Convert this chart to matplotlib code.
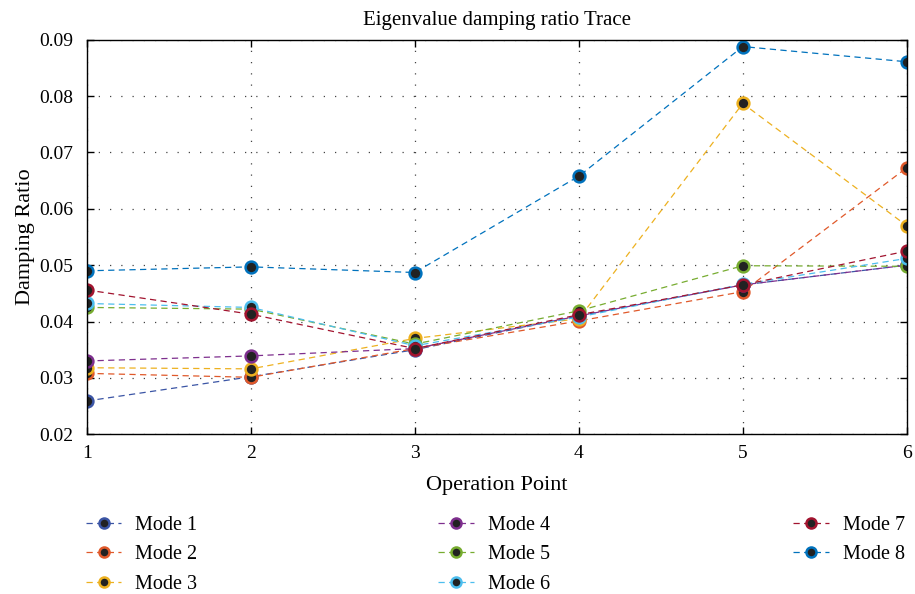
import matplotlib
matplotlib.use("Agg")
import matplotlib.pyplot as plt

plt.rcParams['font.family'] = ['Liberation Serif', 'DejaVu Serif']

op_points = [1, 2, 3, 4, 5, 6]
mode_names = ["Mode 1", "Mode 2", "Mode 3", "Mode 4", "Mode 5", "Mode 6", "Mode 7", "Mode 8"]
mode1 = [0.0259, 0.0302, 0.0350, 0.0410, 0.0465, 0.0500]
mode2 = [0.0308, 0.0301, 0.0352, 0.0401, 0.0453, 0.0673]
mode3 = [0.0318, 0.0316, 0.0370, 0.0405, 0.0787, 0.0570]
mode4 = [0.0330, 0.0339, 0.0352, 0.0410, 0.0465, 0.0500]
mode5 = [0.0425, 0.0422, 0.0360, 0.0419, 0.0499, 0.0498]
mode6 = [0.0432, 0.0425, 0.0357, 0.0408, 0.0466, 0.0512]
mode7 = [0.0456, 0.0413, 0.0352, 0.0412, 0.0465, 0.0525]
mode8 = [0.0490, 0.0497, 0.0487, 0.0658, 0.0888, 0.0861]
series = [mode1, mode2, mode3, mode4, mode5, mode6, mode7, mode8]
colors = ["#3B55A5", "#E0592A", "#EDB120", "#7E2F8E", "#77AC30", "#4DBEEE", "#A2142F", "#0072BD"]
yticks = [0.02, 0.03, 0.04, 0.05, 0.06, 0.07, 0.08, 0.09]

fig = plt.figure(figsize=(9.15, 5.94), dpi=100)
ax = fig.add_axes([0.095, 0.269, 0.896, 0.664])

handles = []
for vals, c, name in zip(series, colors, mode_names):
    h, = ax.plot(op_points, vals, linestyle=(0, (5, 3.5)), lw=0.9, color=c,
                 marker='o', markersize=8.5, markerfacecolor='#222222',
                 markeredgecolor=c, markeredgewidth=1.8, label=name)
    handles.append(h)

ax.set_xlim(1, 6)
ax.set_ylim(0.02, 0.09)
ax.set_xticks(op_points)
ax.set_yticks(yticks)
ax.set_yticklabels([f"{v:.2f}" for v in yticks])
ax.grid(True, linestyle=(0, (1, 8)), color='#444444', lw=0.9)
ax.tick_params(direction='in', length=5, top=True, right=True, labelsize=14, width=1)
ax.tick_params(axis='y', pad=10)
ax.tick_params(axis='x', pad=8)
for s in ax.spines.values():
    s.set_linewidth(1.0)
ax.set_title("Eigenvalue damping ratio Trace", fontsize=15, pad=11)
ax.set_xlabel("Operation Point", fontsize=16, labelpad=10)
ax.set_ylabel("Damping Ratio", fontsize=16, labelpad=3)

groups = [(0, 3, 0.094), (3, 6, 0.479), (6, 8, 0.867)]
for a, b, xpos in groups:
    fig.legend(handles=handles[a:b], loc='upper left', bbox_to_anchor=(xpos, 0.132),
               frameon=False, fontsize=14.5, handlelength=1.75, handletextpad=0.7,
               labelspacing=0.52, borderaxespad=0, borderpad=0, markerscale=0.85)

fig.savefig("out.png", dpi=100)
